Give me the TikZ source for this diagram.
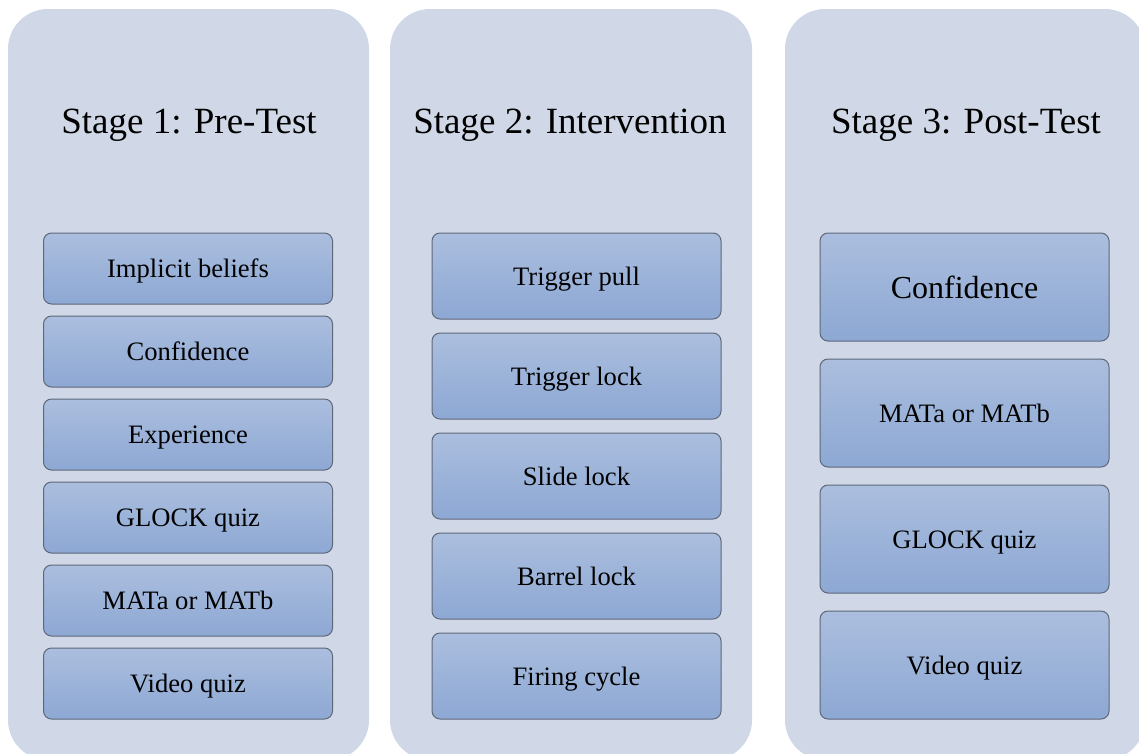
\documentclass[tikz,border=0pt]{standalone}
\usepackage{fontspec}
\setmainfont{Liberation Serif}

\definecolor{panelfill}{HTML}{D0D8E8}
\definecolor{boxtop}{HTML}{ABBEDE}
\definecolor{boxbottom}{HTML}{8DA8D4}
\definecolor{boxline}{HTML}{5E6878}

\begin{document}
\begin{tikzpicture}[x=1pt, y=-1pt,
    panel/.style={fill=panelfill, rounded corners=40pt},
    stagetitle/.style={anchor=base, font=\fontsize{37}{44}\selectfont},
    stepbox/.style={draw=boxline, line width=1pt, rounded corners=8pt,
        top color=boxtop, bottom color=boxbottom, inner sep=0pt,
        minimum width=289pt, text height=20pt, text depth=2pt,
        font=\fontsize{26.6}{32}\selectfont},
    prebox/.style={stepbox, minimum height=71pt},
    midbox/.style={stepbox, minimum height=86pt},
    postbox/.style={stepbox, minimum height=108pt}]

    % Page size
    \useasboundingbox (0,0) rectangle (1139,753);
    \clip (0,0) rectangle (1139,753);

    % Background panels
    \fill[panel] (8,9) rectangle (369,760);      % Stage 1
    \fill[panel] (390,9) rectangle (752,760);    % Stage 2
    \fill[panel] (785,9) rectangle (1145,760);   % Stage 3

    % Stage titles
    \node[stagetitle] (pretitle) at (189,133) {Stage 1: Pre-Test};
    \node[stagetitle] (inttitle) at (570,133) {Stage 2: Intervention};
    \node[stagetitle] (posttitle) at (966,133) {Stage 3: Post-Test};

    % Stage 1 boxes
    \node[prebox] (pre1) at (188,268.5) {Implicit beliefs};
    \node[prebox] (pre2) at (188,351.5) {Confidence};
    \node[prebox] (pre3) at (188,434.5) {Experience};
    \node[prebox] (pre4) at (188,517.5) {GLOCK quiz};
    \node[prebox] (pre5) at (188,600.5) {MATa or MATb};
    \node[prebox] (pre6) at (188,683.5) {Video quiz};

    % Stage 2 boxes
    \node[midbox] (int1) at (576.5,276) {Trigger pull};
    \node[midbox] (int2) at (576.5,376) {Trigger lock};
    \node[midbox] (int3) at (576.5,476) {Slide lock};
    \node[midbox] (int4) at (576.5,576) {Barrel lock};
    \node[midbox] (int5) at (576.5,676) {Firing cycle};

    % Stage 3 boxes
    \node[postbox, font=\fontsize{32}{38}\selectfont, text height=24pt]
        (post1) at (964.5,287) {Confidence};
    \node[postbox] (post2) at (964.5,413) {MATa or MATb};
    \node[postbox] (post3) at (964.5,539) {GLOCK quiz};
    \node[postbox] (post4) at (964.5,665) {Video quiz};

\end{tikzpicture}
\end{document}
